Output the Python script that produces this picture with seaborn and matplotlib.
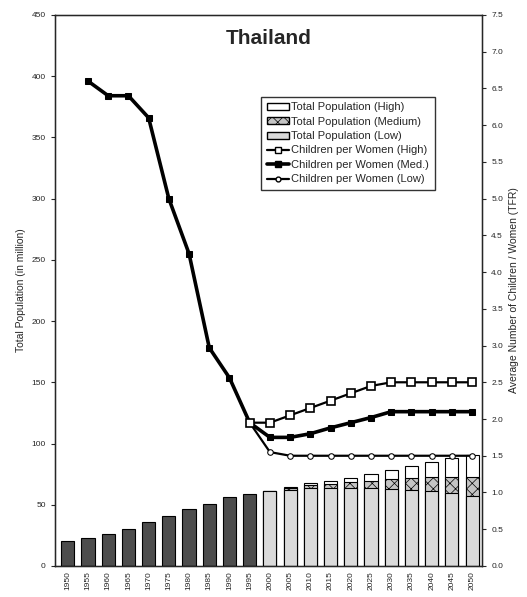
"""
Thailand: total population bars (left axis) and TFR lines (right axis).
"""
import matplotlib
matplotlib.use('Agg')
import matplotlib.pyplot as plt
from matplotlib.patches import Patch
from matplotlib.lines import Line2D
import seaborn as sns
import numpy as np
import pandas as pd

sns.set_style("white")
plt.rcParams['font.family'] = ['Liberation Sans', 'DejaVu Sans']
plt.rcParams['hatch.linewidth'] = 0.5

# Data
years = [1950, 1955, 1960, 1965, 1970, 1975, 1980, 1985, 1990, 1995,
         2000, 2005, 2010, 2015, 2020, 2025, 2030, 2035, 2040, 2045, 2050]
pop_past = [20, 22.5, 26, 30.5, 35.5, 41, 46.5, 51, 56, 58.5,
            None, None, None, None, None, None, None, None, None, None, None]
pop_high = [None] * 10 + [61.5, 64.5, 67.5, 69.5, 72, 75, 78.5, 81.5, 85, 88.5, 90.5]
pop_med = [None] * 10 + [61.3, 63.8, 66.2, 66.8, 68.4, 69.5, 71, 72.2, 73, 73, 73]
pop_low = [None] * 10 + [61, 62.3, 64, 64, 63.5, 64, 63, 62, 61.3, 59.5, 57]

tfr_med = [None, 6.6, 6.4, 6.4, 6.1, 5.0, 4.25, 2.97, 2.56, 1.95,
           1.75, 1.75, 1.8, 1.88, 1.95, 2.02, 2.1, 2.1, 2.1, 2.1, 2.1]
tfr_high = [None] * 9 + [1.95, 1.95, 2.05, 2.15, 2.25, 2.35, 2.45, 2.5, 2.5, 2.5, 2.5, 2.5]
tfr_low = [None] * 9 + [1.95, 1.55, 1.5, 1.5, 1.5, 1.5, 1.5, 1.5, 1.5, 1.5, 1.5, 1.5]

df = pd.DataFrame({
    'year': [str(y) for y in years],
    'pos': np.arange(len(years)),
    'past': pop_past, 'high': pop_high, 'med': pop_med, 'low': pop_low,
    'tfr_high': tfr_high, 'tfr_med': tfr_med, 'tfr_low': tfr_low,
}).astype({'past': float, 'high': float, 'med': float, 'low': float,
           'tfr_high': float, 'tfr_med': float, 'tfr_low': float})

fig = plt.figure(figsize=(5.27, 5.97), dpi=100)
ax = fig.add_axes([0.104, 0.052, 0.811, 0.923])
order = df['year'].tolist()

bar_kw = dict(x='year', order=order, width=0.65, linewidth=0.8, edgecolor='black', ax=ax)
sns.barplot(data=df, y='past', color='#4d4d4d', **bar_kw)
sns.barplot(data=df, y='high', color='white', **bar_kw)
sns.barplot(data=df, y='med', color='#c4c4c4', hatch='xxx', **bar_kw)
sns.barplot(data=df, y='low', color='#dadada', **bar_kw)

ax.set_xlim(-0.64, 20.5)
ax.set_ylim(0, 450)
ax.set_yticks(np.arange(0, 451, 50))
ax.set_xlabel('')
ax.set_ylabel('Total Population (in million)', fontsize=7.5)
ax.tick_params(axis='y', labelsize=6, length=3, direction='out', left=True)
ax.tick_params(axis='x', labelsize=6, rotation=90, length=0)
for s in ax.spines.values():
    s.set_linewidth(1.0)
    s.set_color('black')

ax2 = ax.twinx()
line_kw = dict(x='pos', ax=ax2, color='black', legend=False)
sns.lineplot(data=df, y='tfr_low', marker='o', markersize=4, markerfacecolor='white',
             markeredgecolor='black', linewidth=1.6, **line_kw)
sns.lineplot(data=df, y='tfr_med', marker='s', markersize=5, markerfacecolor='black',
             markeredgecolor='black', linewidth=2.6, **line_kw)
sns.lineplot(data=df, y='tfr_high', marker='s', markersize=6, markerfacecolor='white',
             markeredgecolor='black', markeredgewidth=1.2, linewidth=1.6, **line_kw)
ax2.set_ylim(0, 7.5)
ax2.set_yticks(np.arange(0, 7.6, 0.5))
ax2.set_yticklabels([f'{v:.1f}' for v in np.arange(0, 7.6, 0.5)])
ax2.set_xlim(-0.64, 20.5)
ax2.set_ylabel('Average Number of Children / Women (TFR)', fontsize=7.5)
ax2.tick_params(axis='y', labelsize=6, length=3, direction='out', right=True)

ax2.text(0.5, 0.958, 'Thailand', transform=ax2.transAxes, ha='center', va='center',
         fontsize=15, fontweight='bold')

handles = [
    Patch(facecolor='white', edgecolor='black'),
    Patch(facecolor='#c4c4c4', edgecolor='black', hatch='xxx'),
    Patch(facecolor='#dadada', edgecolor='black'),
    Line2D([], [], color='black', lw=1.6, marker='s', ms=5, mfc='white'),
    Line2D([], [], color='black', lw=2.6, marker='s', ms=4, mfc='black'),
    Line2D([], [], color='black', lw=1.6, marker='o', ms=3.5, mfc='white'),
]
labels = ['Total Population (High)', 'Total Population (Medium)', 'Total Population (Low)',
          'Children per Women (High)', 'Children per Women (Med.)', 'Children per Women (Low)']
leg = ax2.legend(handles, labels, loc='upper left', bbox_to_anchor=(0.47, 0.862),
                 fontsize=8, frameon=True, fancybox=False, edgecolor='black',
                 handlelength=2.0, handleheight=0.6, handletextpad=0.2,
                 labelspacing=0.4, borderpad=0.5)
leg.get_frame().set_linewidth(1.0)

plt.savefig('out.png', dpi=100)
plt.close()
